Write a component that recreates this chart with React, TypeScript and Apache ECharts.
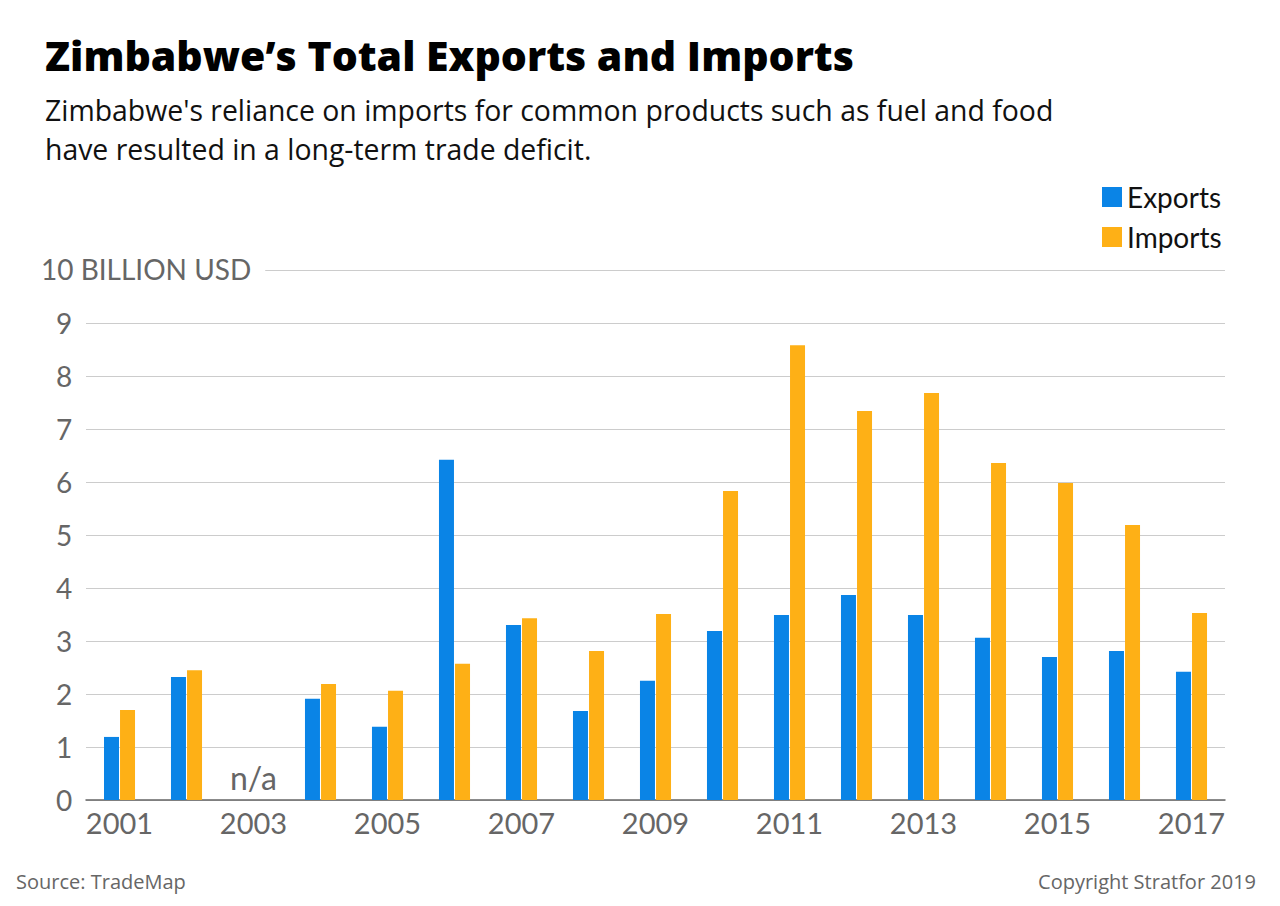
import React, { useEffect, useRef } from "react";
import * as echarts from "echarts";

// Zimbabwe trade totals, billion USD (2003 has no data)
const years = [
  "2001", "2002", "2003", "2004", "2005", "2006", "2007", "2008", "2009",
  "2010", "2011", "2012", "2013", "2014", "2015", "2016", "2017",
];
const exportsBn: (number | null)[] = [
  1.19, 2.32, null, 1.91, 1.38, 6.42, 3.3, 1.68, 2.25,
  3.19, 3.49, 3.87, 3.49, 3.06, 2.7, 2.81, 2.42,
];
const importsBn: (number | null)[] = [
  1.7, 2.45, null, 2.19, 2.06, 2.57, 3.43, 2.81, 3.51,
  5.83, 8.58, 7.34, 7.68, 6.36, 5.98, 5.19, 3.53,
];
const missingYear = "2003";

const FONT = "Lato, 'Noto Sans', sans-serif";
const WIDE = "'Open Sans', 'Noto Sans', sans-serif";
const BLUE = "#0A84E6";
const ORANGE = "#FEB016";
const GREY = "#666666";

export default function App() {
  const ref = useRef<HTMLDivElement>(null);

  useEffect(() => {
    document.body.style.margin = "0";
    if (!ref.current) return;
    const chart = echarts.init(ref.current, undefined, { renderer: "svg" });
    chart.setOption({
      animation: false,
      backgroundColor: "#ffffff",
      textStyle: { fontFamily: FONT },
      title: [
        {
          text: "Zimbabwe\u2019s Total Exports and Imports",
          left: 40,
          top: 29,
          textStyle: { fontFamily: WIDE, fontSize: 41, fontWeight: 800, color: "#000" },
        },
        {
          text:
            "Zimbabwe's reliance on imports for common products such as fuel and food\nhave resulted in a long-term trade deficit.",
          left: 40,
          top: 85,
          textStyle: { fontFamily: WIDE, fontSize: 28.4, fontWeight: 400, color: "#111", lineHeight: 39 },
        },
        {
          text: "Source: TradeMap",
          left: 11,
          top: 866,
          textStyle: { fontFamily: WIDE, fontSize: 20, fontWeight: 400, color: GREY },
        },
        {
          text: "Copyright Stratfor 2019",
          right: 19,
          top: 866,
          textStyle: { fontFamily: WIDE, fontSize: 20, fontWeight: 400, color: GREY },
        },
      ],
      legend: {
        data: ["Exports", "Imports"],
        orient: "vertical",
        left: 1102,
        top: 183,
        padding: 0,
        icon: "rect",
        itemWidth: 20,
        itemHeight: 20,
        itemGap: 12,
        textStyle: { fontFamily: FONT, fontSize: 28, color: "#111" },
      },
      grid: { left: 86, right: 55, top: 270, bottom: 106, containLabel: false },
      xAxis: {
        type: "category",
        data: years,
        axisTick: { show: false },
        axisLine: { lineStyle: { color: GREY, width: 1.5 } },
        axisLabel: { interval: 1, fontFamily: FONT, fontSize: 29, color: GREY, margin: 8 },
      },
      yAxis: {
        type: "value",
        min: 0,
        max: 10,
        interval: 1,
        axisLine: { show: false },
        axisTick: { show: false },
        splitLine: { lineStyle: { color: "#cccccc", width: 1 } },
        axisLabel: {
          fontFamily: FONT,
          fontSize: 28,
          color: GREY,
          align: "center",
          margin: 22,
          formatter: (v: number) => (v === 10 ? "" : String(v)),
        },
      },
      graphic: [
        {
          type: "text",
          left: 41,
          top: 255,
          z: 100,
          style: {
            text: "10 BILLION USD",
            fontFamily: FONT,
            fontSize: 28,
            fill: GREY,
            backgroundColor: "#ffffff",
            padding: [0, 14, 0, 0],
          },
        },
      ],
      series: [
        {
          name: "Exports",
          type: "bar",
          data: exportsBn,
          barWidth: 15,
          barGap: "7%",
          itemStyle: { color: BLUE },
          markPoint: {
            symbol: "circle",
            symbolSize: 1,
            itemStyle: { color: "rgba(0,0,0,0)" },
            label: {
              show: true,
              position: "top",
              distance: 6,
              offset: [8, 0],
              formatter: "n/a",
              fontFamily: FONT,
              fontSize: 32,
              color: GREY,
            },
            data: [{ coord: [missingYear, 0] }],
          },
        },
        {
          name: "Imports",
          type: "bar",
          data: importsBn,
          barWidth: 15,
          barGap: "7%",
          itemStyle: { color: ORANGE },
        },
      ],
    });
    return () => chart.dispose();
  }, []);

  return <div ref={ref} style={{ width: 1280, height: 906 }} />;
}
